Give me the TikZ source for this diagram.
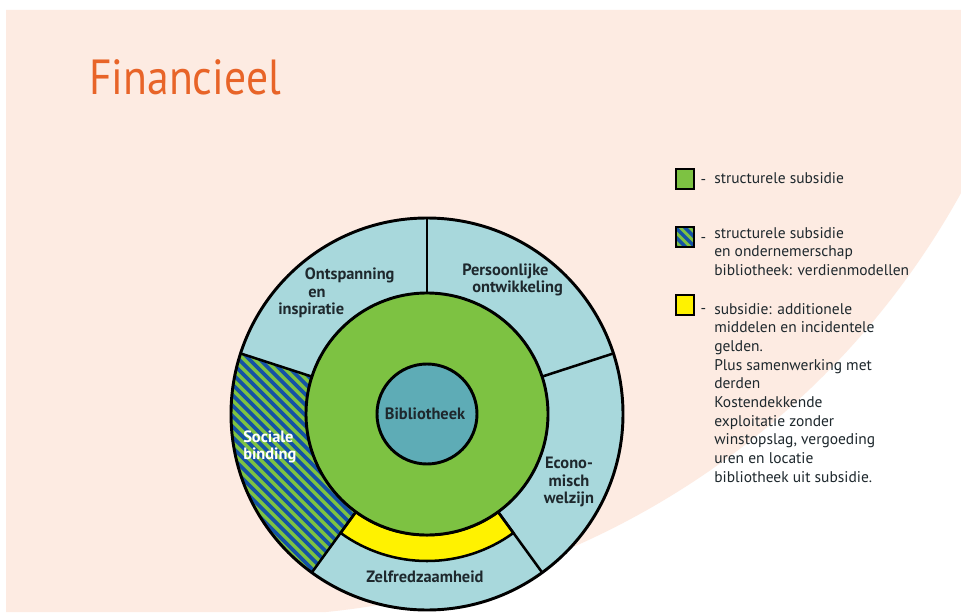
\documentclass[tikz,border=0pt]{standalone}
\usepackage{fontspec}
\setmainfont{PT Sans}
\usepackage{xcolor}
\usepackage{graphicx}
\usetikzlibrary{positioning}
\usetikzlibrary{calc}
\definecolor{peach}{RGB}{253,235,226}
\definecolor{titleorange}{RGB}{232,100,40}
\definecolor{ringblue}{RGB}{168,216,220}
\definecolor{libgreen}{RGB}{125,194,66}
\definecolor{coreteal}{RGB}{94,172,182}
\definecolor{subyellow}{RGB}{255,242,0}
\definecolor{stripeblue}{RGB}{20,82,165}
\definecolor{ink}{RGB}{30,40,45}

\begin{document}
\begin{tikzpicture}[x=0.75pt,y=0.75pt,
   ring/.style={draw=black,line width=2.2pt},
   divider/.style={line width=1.9pt},
   seglabel/.style={inner sep=0pt,font=\fontsize{12.3}{13.3}\selectfont\bfseries,text=ink},
   keybox/.style={draw=black,line width=1.5pt,minimum width=13.5pt,minimum height=15pt,inner sep=0pt},
   keydash/.style={inner sep=0pt,font=\fontsize{11.6}{14}\selectfont,text=ink},
   keytext/.style={inner sep=0pt,anchor=north west,align=left,font=\fontsize{11.6}{14}\selectfont,text=ink},
   hatchkey/.style={fill=libgreen,path picture={
      \foreach \s in {-2,...,2}
         \draw[stripeblue,line width=2.6pt] ([xshift=\s*7pt-10pt,yshift=10pt]path picture bounding box.center) -- ++(20pt,-20pt);}}]
   \useasboundingbox (0,0) rectangle (961,612);
   \fill[white] (0,0) rectangle (961,612);
   \fill[peach] (6,0) -- (6,602) -- (961,602) -- (961,419)
      arc[start angle=-28.94,end angle=-84.33,radius=820] -- cycle;

   \node[anchor=base west,inner sep=0pt,text=titleorange,font=\fontsize{37}{40}\selectfont] (title) at (89,517) {\scalebox{0.885}[1]{Financieel}};

   \coordinate (c) at (427,198);
   \fill[ringblue] (c) circle (196);
   \begin{scope}
      \clip (c) ++(162:196) arc[start angle=162,end angle=234,radius=196]
         -- ($(c)+(234:121)$) arc[start angle=234,end angle=162,radius=121] -- cycle;
      \fill[libgreen] (c) circle (200);
      \foreach \k in {0,...,32}
         \draw[stripeblue,line width=2.9pt] (\k*10.5-80,330) -- ++(330,-330);
   \end{scope}
   \filldraw[fill=subyellow,draw=black,line width=1.9pt] ($(c)+(234:121)$) arc[start angle=234,end angle=306,radius=121]
      -- ($(c)+(306:147)$) arc[start angle=306,end angle=234,radius=147] -- cycle;
   \draw[ring,fill=libgreen] (c) circle (121);
   \draw[ring,fill=coreteal] (c) circle (50);
   \foreach \a in {18,90,162,234,306}
      \draw[divider] ($(c)+(\a:121)$) -- ($(c)+(\a:196)$);
   \draw[ring] (c) circle (196);

   \node[seglabel] (bib) at (425,198) {Bibliotheek};
   \node[seglabel,anchor=west,align=left] (ontsp) at (278,319) {\hspace*{20pt}Ontspanning\\\hspace*{22.5pt}en\\inspiratie};
   \node[seglabel,anchor=west,align=left] (pers) at (462,332) {Persoonlijke\\\hspace*{7.5pt}ontwikkeling};
   \node[seglabel,align=center] (econ) at (569,130) {Econo-\\misch\\welzijn};
   \node[seglabel,anchor=west,align=left,text=white] (soc) at (243,165) {Sociale\\binding};
   \node[seglabel] (zelf) at (425,35) {Zelfredzaamheid};

   \node[keybox,fill=libgreen] (key1) at (685,433) {};
   \node[keybox,hatchkey] (key2) at (685,375) {};
   \node[keybox,fill=subyellow] (key3) at (685,307.5) {};
   \node[keydash,right=4pt of key1,yshift=-2pt] (dash1) {-};
   \node[keydash,right=4pt of key2,yshift=-2pt] (dash2) {-};
   \node[keydash,right=4pt of key3,yshift=-5pt] (dash3) {-};
   \node[keytext] (txt1) at (714,440) {structurele subsidie};
   \node[keytext] (txt2) at (714,385) {structurele subsidie\\en ondernemerschap\\bibliotheek: verdienmodellen};
   \node[keytext] (txt3) at (714,309) {subsidie: additionele\\middelen en incidentele\\gelden.\\Plus samenwerking met\\derden\\Kostendekkende\\exploitatie zonder\\winstopslag, vergoeding\\uren en locatie\\bibliotheek uit subsidie.};
\end{tikzpicture}
\end{document}
